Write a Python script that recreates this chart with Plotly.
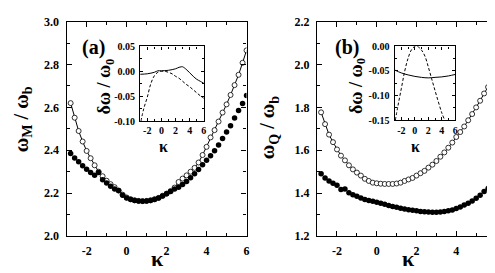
import plotly.graph_objects as go

# ---------------- data ----------------
kappa = [-2.8, -2.6, -2.4, -2.2, -2.0, -1.8, -1.6, -1.4, -1.2, -1.0,
         -0.8, -0.6, -0.4, -0.2, 0.0, 0.2, 0.4, 0.6, 0.8, 1.0,
         1.2, 1.4, 1.6, 1.8, 2.0, 2.2, 2.4, 2.6, 2.8, 3.0,
         3.2, 3.4, 3.6, 3.8, 4.0, 4.2, 4.4, 4.6, 4.8, 5.0,
         5.2, 5.4, 5.6, 5.8, 6.0]

# panel (a): omega_M / omega_b
wM_open = [2.620, 2.552, 2.490, 2.441, 2.397, 2.363, 2.330, 2.300, 2.279, 2.258,
           2.242, 2.228, 2.212, 2.193, 2.180, 2.172, 2.167, 2.164, 2.163, 2.164,
           2.167, 2.172, 2.178, 2.188, 2.198, 2.210, 2.226, 2.252, 2.268, 2.283,
           2.300, 2.318, 2.343, 2.378, 2.416, 2.460, 2.494, 2.534, 2.576, 2.614,
           2.658, 2.704, 2.752, 2.808, 2.866]
wM_filled = [2.385, 2.364, 2.346, 2.328, 2.312, 2.296, 2.284, 2.296, 2.262, 2.247,
             2.232, 2.220, 2.213, 2.190, 2.178, 2.170, 2.166, 2.163, 2.162, 2.163,
             2.166, 2.171, 2.178, 2.187, 2.197, 2.208, 2.219, 2.228, 2.240, 2.255,
             2.272, 2.290, 2.310, 2.332, 2.353, 2.375, 2.398, 2.425, 2.455, 2.485,
             2.515, 2.550, 2.585, 2.618, 2.655]

# panel (b): omega_Q / omega_b
wQ_open = [1.777, 1.722, 1.673, 1.638, 1.604, 1.575, 1.553, 1.530, 1.511, 1.496,
           1.482, 1.467, 1.457, 1.449, 1.446, 1.444, 1.443, 1.443, 1.443, 1.445,
           1.449, 1.457, 1.464, 1.471, 1.482, 1.493, 1.504, 1.519, 1.533, 1.550,
           1.570, 1.590, 1.612, 1.636, 1.662, 1.685, 1.711, 1.740, 1.769, 1.800,
           1.831, 1.865, 1.895, 1.925, 1.958]
wQ_filled = [1.491, 1.471, 1.457, 1.446, 1.437, 1.417, 1.420, 1.402, 1.393, 1.386,
             1.378, 1.371, 1.366, 1.362, 1.358, 1.353, 1.348, 1.343, 1.338, 1.334,
             1.330, 1.326, 1.323, 1.320, 1.318, 1.315, 1.313, 1.312, 1.311, 1.311,
             1.312, 1.314, 1.318, 1.322, 1.328, 1.336, 1.345, 1.353, 1.364, 1.376,
             1.390, 1.408, 1.422, 1.428, 1.455]

# inset (a)
ia_k_solid = [-3.0, -2.0, -1.0, -0.5, 0.0, 1.0, 2.0, 2.5, 2.8, 3.0, 3.5, 4.0, 4.5, 5.0, 5.5, 6.0]
ia_solid = [-0.006, -0.005, -0.002, 0.001, 0.001, 0.002, 0.005, 0.008, 0.009, 0.009,
            0.004, -0.003, -0.010, -0.016, -0.020, -0.024]
ia_k_dash = [-2.9, -2.5, -2.0, -1.5, -1.0, -0.5, 0.0, 0.5, 1.0, 1.5, 2.0, 2.5, 3.0,
             3.5, 4.0, 4.5, 5.0, 5.5, 6.0]
ia_dash = [-0.100, -0.075, -0.052, -0.025, -0.009, -0.002, 0.000, 0.000, -0.002, -0.005,
           -0.010, -0.014, -0.020, -0.026, -0.031, -0.037, -0.043, -0.049, -0.054]

# inset (b)
ib_k_solid = [-3.0, -2.0, -1.0, 0.0, 1.0, 2.0, 3.0, 4.0, 5.0, 6.0]
ib_solid = [-0.048, -0.054, -0.058, -0.061, -0.063, -0.064, -0.063, -0.062, -0.060, -0.057]
ib_k_dash = [-2.9, -2.5, -2.0, -1.5, -1.0, -0.5, 0.0, 0.3, 0.5, 1.0, 1.5, 2.0, 2.5,
             3.0, 3.5, 4.0, 4.45]
ib_dash = [-0.150, -0.120, -0.085, -0.050, -0.024, -0.007, 0.000, 0.000, -0.001, -0.008,
           -0.020, -0.042, -0.066, -0.090, -0.113, -0.135, -0.150]

# tick labels
k_ticks = [-2, 0, 2, 4, 6]
k_ticktext = ["-2", "0", "2", "4", "6"]
ya_ticks = [2.0, 2.2, 2.4, 2.6, 2.8, 3.0]
ya_ticktext = ["2.0", "2.2", "2.4", "2.6", "2.8", "3.0"]
yb_ticks = [1.2, 1.4, 1.6, 1.8, 2.0, 2.2]
yb_ticktext = ["1.2", "1.4", "1.6", "1.8", "2.0", "2.2"]
ia_yticks = [-0.10, -0.05, 0.00, 0.05]
ia_yticktext = ["-0.10", "-0.05", "0.00", "0.05"]
ib_yticks = [-0.15, -0.10, -0.05, 0.00]
ib_yticktext = ["-0.15", "-0.10", "-0.05", "0.00"]

# ---------------- layout helpers ----------------
W, H = 495, 273
FONT = "'Liberation Serif', 'Times New Roman', serif"


def px_x(p):
    return p / W


def px_y(p):
    return 1 - p / H


fig = go.Figure()

open_marker = dict(symbol="circle", size=5, color="white", line=dict(color="black", width=0.8))
filled_marker = dict(symbol="circle", size=5.5, color="black", line=dict(width=0))

fig.add_trace(go.Scatter(x=kappa, y=wM_open, mode="lines+markers", line=dict(color="black", width=1),
                         marker=open_marker, xaxis="x", yaxis="y", showlegend=False))
fig.add_trace(go.Scatter(x=kappa, y=wM_filled, mode="markers", marker=filled_marker,
                         xaxis="x", yaxis="y", showlegend=False))
fig.add_trace(go.Scatter(x=kappa, y=wQ_open, mode="lines+markers", line=dict(color="black", width=1),
                         marker=open_marker, xaxis="x2", yaxis="y2", showlegend=False))
fig.add_trace(go.Scatter(x=kappa, y=wQ_filled, mode="markers", marker=filled_marker,
                         xaxis="x2", yaxis="y2", showlegend=False))
fig.add_trace(go.Scatter(x=ia_k_solid, y=ia_solid, mode="lines", line=dict(color="black", width=1, shape="spline"),
                         xaxis="x3", yaxis="y3", showlegend=False))
fig.add_trace(go.Scatter(x=ia_k_dash, y=ia_dash, mode="lines",
                         line=dict(color="black", width=1, dash="3px,2px", shape="spline"),
                         xaxis="x3", yaxis="y3", showlegend=False))
fig.add_trace(go.Scatter(x=ib_k_solid, y=ib_solid, mode="lines", line=dict(color="black", width=1, shape="spline"),
                         xaxis="x4", yaxis="y4", showlegend=False))
fig.add_trace(go.Scatter(x=ib_k_dash, y=ib_dash, mode="lines",
                         line=dict(color="black", width=1, dash="3px,2px", shape="spline"),
                         xaxis="x4", yaxis="y4", showlegend=False))


def axis(domain, rng, tickvals, ticktext, minor_dtick, anchor, fsize, ticklen, mlen, standoff):
    return dict(domain=domain, range=rng, anchor=anchor, tickmode="array",
                tickvals=tickvals, ticktext=ticktext,
                ticks="inside", ticklen=ticklen, tickwidth=1, tickcolor="black",
                minor=dict(dtick=minor_dtick, ticks="inside", ticklen=mlen, tickwidth=1, tickcolor="black",
                           showgrid=False),
                showline=True, linecolor="black", linewidth=1.4, mirror="ticks",
                showgrid=False, zeroline=False,
                tickfont=dict(family=FONT, size=fsize, color="black", weight="bold"),
                ticklabelstandoff=standoff, fixedrange=True)


main_y = [px_y(233), px_y(7)]
fig.update_layout(
    width=W, height=H, margin=dict(l=0, r=0, t=0, b=0),
    paper_bgcolor="white", plot_bgcolor="rgba(0,0,0,0)",
    font=dict(family=FONT, color="black"),
    xaxis=axis([px_x(59), px_x(240)], [-3, 6], k_ticks, k_ticktext, 1, "y", 12, 5, 3, 3),
    yaxis=axis(main_y, [2.0, 3.0], ya_ticks, ya_ticktext, 0.1, "x", 12, 5, 3, 4),
    xaxis2=axis([px_x(311), px_x(491)], [-3, 6], k_ticks, k_ticktext, 1, "y2", 12, 5, 3, 3),
    yaxis2=axis(main_y, [1.2, 2.2], yb_ticks, yb_ticktext, 0.1, "x2", 12, 5, 3, 4),
    xaxis3=axis([px_x(133), px_x(197)], [-3, 6], k_ticks, k_ticktext, 1, "y3", 10, 3, 2, 0),
    yaxis3=axis([px_y(112), px_y(33)], [-0.10, 0.05], ia_yticks, ia_yticktext, 0.025, "x3", 10, 3, 2, 2),
    xaxis4=axis([px_x(389), px_x(450)], [-3, 6], k_ticks, k_ticktext, 1, "y4", 10, 3, 2, 0),
    yaxis4=axis([px_y(111), px_y(33)], [-0.15, 0.00], ib_yticks, ib_yticktext, 0.025, "x4", 10, 3, 2, 2),
)


def ann_font(s):
    return dict(family=FONT, size=s, color="black", weight="bold")


annotations = [
    dict(text="ω<sub>M</sub> / ω<sub>b</sub>", x=px_x(14), y=px_y(110), textangle=-90, font=ann_font(20)),
    dict(text="ω<sub>Q</sub> / ω<sub>b</sub>", x=px_x(263), y=px_y(118), textangle=-90, font=ann_font(20)),
    dict(text="κ", x=px_x(150), y=px_y(257), font=ann_font(22)),
    dict(text="κ", x=px_x(403), y=px_y(257), font=ann_font(22)),
    dict(text="(a)", x=px_x(86), y=px_y(34), font=ann_font(20)),
    dict(text="(b)", x=px_x(341), y=px_y(34), font=ann_font(20)),
    dict(text="δω / ω<sub>0</sub>", x=px_x(98), y=px_y(75), textangle=-90, font=ann_font(18)),
    dict(text="δω / ω<sub>0</sub>", x=px_x(351), y=px_y(75), textangle=-90, font=ann_font(18)),
    dict(text="κ", x=px_x(156), y=px_y(139), font=ann_font(16)),
    dict(text="κ", x=px_x(410), y=px_y(139), font=ann_font(16)),
]
for a in annotations:
    a.update(xref="paper", yref="paper", showarrow=False, xanchor="center", yanchor="middle")
fig.update_layout(annotations=annotations)

fig.write_html("out.html")
